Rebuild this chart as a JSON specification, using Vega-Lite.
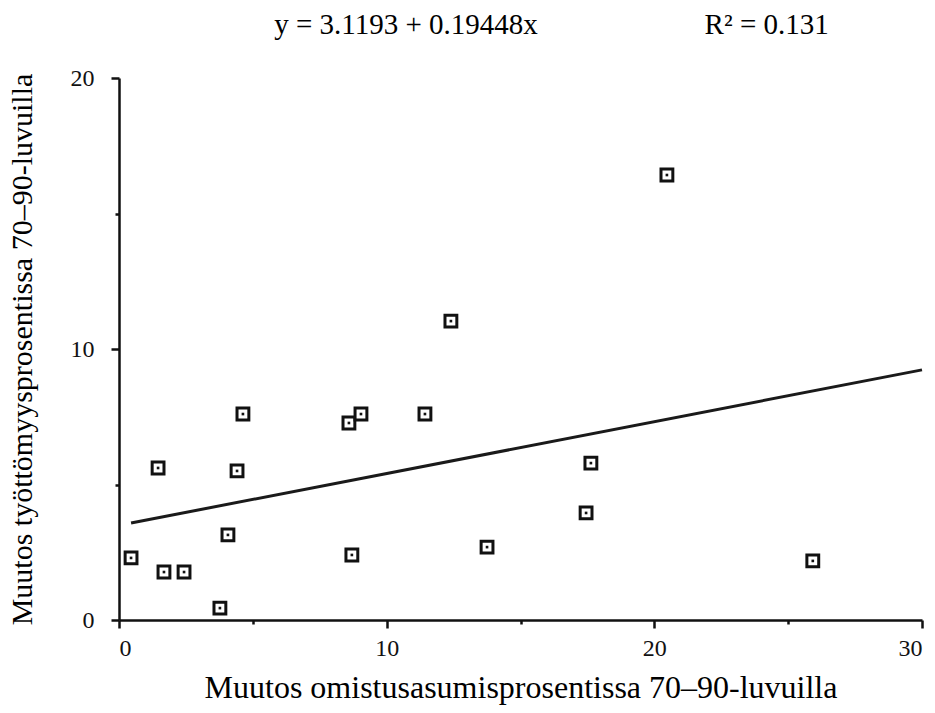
{
  "$schema": "https://vega.github.io/schema/vega-lite/v6.json",
  "width": 803,
  "height": 542,
  "autosize": "none",
  "padding": {"left": 119, "top": 78, "right": 13, "bottom": 93},
  "background": "white",
  "config": {
    "view": {"stroke": null},
    "font": "Liberation Serif",
    "axis": {
      "grid": false,
      "domainColor": "#111111",
      "domainWidth": 2.5,
      "tickColor": "#111111",
      "tickWidth": 2.5,
      "labelFont": "Liberation Serif",
      "labelFontSize": 24,
      "labelColor": "#111111",
      "titleFont": "Liberation Serif",
      "titleFontSize": 30,
      "titleFontWeight": "normal",
      "titleColor": "#000000"
    }
  },
  "title": {
    "text": "y = 3.1193 + 0.19448x\u00a0\u00a0\u00a0\u00a0\u00a0\u00a0\u00a0\u00a0\u00a0\u00a0\u00a0\u00a0\u00a0\u00a0\u00a0\u00a0\u00a0\u00a0\u00a0\u00a0\u00a0\u00a0\u00a0R² = 0.131",
    "fontSize": 29,
    "font": "Liberation Serif",
    "fontWeight": "normal",
    "color": "#000000",
    "anchor": "middle",
    "dx": 31,
    "offset": -3,
    "baseline": "bottom"
  },
  "datasets": {
    "points": [
      {"x": 0.45, "y": 2.29},
      {"x": 1.46, "y": 5.61},
      {"x": 1.68, "y": 1.77},
      {"x": 2.43, "y": 1.77},
      {"x": 3.77, "y": 0.44},
      {"x": 4.07, "y": 3.14},
      {"x": 4.41, "y": 5.5},
      {"x": 4.63, "y": 7.6},
      {"x": 8.59, "y": 7.27},
      {"x": 8.7, "y": 2.4},
      {"x": 9.04, "y": 7.6},
      {"x": 11.43, "y": 7.6},
      {"x": 12.4, "y": 11.03},
      {"x": 13.75, "y": 2.69},
      {"x": 17.45, "y": 3.95},
      {"x": 17.63, "y": 5.79},
      {"x": 20.47, "y": 16.42},
      {"x": 25.92, "y": 2.18}
    ],
    "fit": [
      {"x": 0.45, "y": 3.58},
      {"x": 30, "y": 9.23}
    ]
  },
  "layer": [
    {
      "data": {"name": "fit"},
      "mark": {"type": "line", "color": "#1a1a1a", "strokeWidth": 3},
      "encoding": {
        "x": {
          "field": "x",
          "type": "quantitative",
          "scale": {"domain": [0, 30], "nice": false, "zero": false},
          "axis": {
            "values": [0, 5, 10, 15, 20, 25, 30],
            "labelExpr": "datum.value % 10 === 0 ? datum.label : ''",
            "tickSize": {"condition": {"test": "datum.value % 10 !== 0", "value": 4}, "value": 8},
            "labelPadding": 8,
            "title": "Muutos omistusasumisprosentissa 70–90-luvuilla",
            "titleFontSize": 32,
            "titlePadding": 12
          }
        },
        "y": {
          "field": "y",
          "type": "quantitative",
          "scale": {"domain": [0, 20], "nice": false, "zero": false},
          "axis": {
            "values": [0, 5, 10, 15, 20],
            "labelExpr": "datum.value % 10 === 0 ? datum.label : ''",
            "tickSize": {"condition": {"test": "datum.value % 10 !== 0", "value": 4}, "value": 8},
            "labelPadding": 17,
            "title": "Muutos työttömyysprosentissa 70–90-luvuilla",
            "titlePadding": 33
          }
        }
      }
    },
    {
      "data": {"name": "points"},
      "mark": {"type": "point", "shape": "square", "size": 140, "fill": "white", "fillOpacity": 1, "stroke": "#111111", "strokeWidth": 3, "opacity": 1},
      "encoding": {
        "x": {"field": "x", "type": "quantitative"},
        "y": {"field": "y", "type": "quantitative"}
      }
    },
    {
      "data": {"name": "points"},
      "mark": {"type": "point", "shape": "square", "size": 7, "filled": true, "color": "#111111", "opacity": 1},
      "encoding": {
        "x": {"field": "x", "type": "quantitative"},
        "y": {"field": "y", "type": "quantitative"}
      }
    }
  ]
}
